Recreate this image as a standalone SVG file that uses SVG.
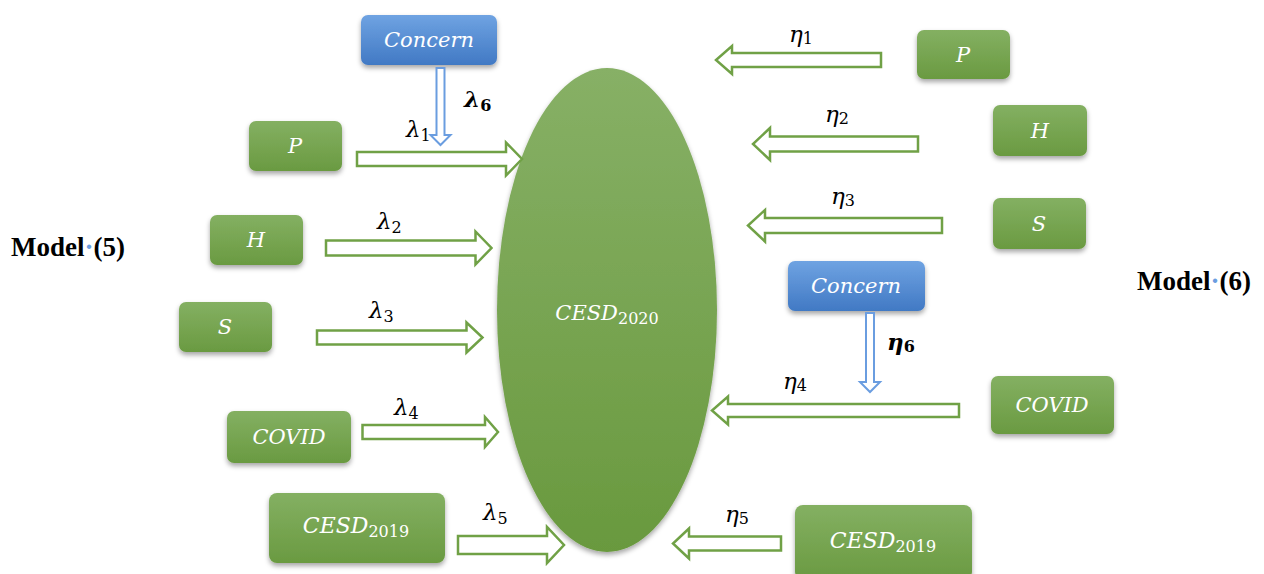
<svg xmlns="http://www.w3.org/2000/svg" width="1264" height="574" viewBox="0 0 1264 574">
<defs>
<linearGradient id="gGreen" x1="0" y1="0" x2="0" y2="1"><stop offset="0" stop-color="#84b062"/><stop offset="1" stop-color="#6a9a41"/></linearGradient>
<linearGradient id="gEll" x1="0" y1="0" x2="0" y2="1"><stop offset="0" stop-color="#87b066"/><stop offset="1" stop-color="#69993e"/></linearGradient>
<linearGradient id="gBlue" x1="0" y1="0" x2="0" y2="1"><stop offset="0" stop-color="#6fa3e2"/><stop offset="1" stop-color="#4179c4"/></linearGradient>
<filter id="sh" x="-20%" y="-20%" width="140%" height="160%"><feDropShadow dx="0" dy="3" stdDeviation="2.5" flood-color="#000" flood-opacity="0.35"/></filter>
</defs>
<style>
.gn{fill:url(#gGreen);filter:url(#sh)}
.bn{fill:url(#gBlue);filter:url(#sh)}
.nt{font-family:"DejaVu Serif",serif;font-style:italic;font-size:21px;fill:#fff;text-anchor:middle}
.sub{font-style:normal;font-size:16px}
.ga{fill:#fff;stroke:#70a146;stroke-width:2.5;stroke-linejoin:miter}
.ba{fill:#fff;stroke:#6a9de0;stroke-width:2}
.lb{font-family:"DejaVu Serif",serif;font-style:italic;font-size:23px;fill:#000}
.ls{font-style:normal;font-size:16px}
.bold{font-weight:bold}
.model{font-family:"Liberation Serif",serif;font-weight:bold;font-size:27px;fill:#000}
</style>

<g id="model5"><text class="model" x="11" y="256">Model<tspan fill="#6a9de0">·</tspan>(5)</text></g>
<g id="model6"><text class="model" x="1137" y="290">Model<tspan fill="#6a9de0">·</tspan>(6)</text></g>

<g id="cesd2020"><ellipse cx="607" cy="310" rx="110" ry="242" fill="url(#gEll)" filter="url(#sh)"/>
<text class="nt" x="607" y="320">CESD<tspan class="sub" dy="4">2020</tspan></text></g>

<g id="concernL"><rect class="bn" x="361" y="15" width="136" height="50" rx="7"/><text class="nt" x="429" y="47">Concern</text></g>
<g id="pL"><rect class="gn" x="249" y="121" width="93" height="50" rx="7"/><text class="nt" x="295" y="153">P</text></g>
<g id="hL"><rect class="gn" x="210" y="215" width="93" height="50" rx="7"/><text class="nt" x="256" y="247">H</text></g>
<g id="sL"><rect class="gn" x="179" y="302" width="93" height="50" rx="7"/><text class="nt" x="225" y="334">S</text></g>
<g id="covidL"><rect class="gn" x="227" y="411" width="124" height="52" rx="7"/><text class="nt" x="289" y="444">COVID</text></g>
<g id="cesd2019L"><rect class="gn" x="269" y="493" width="176" height="70" rx="8"/><text class="nt" x="356" y="533" style="font-size:22px">CESD<tspan class="sub" dy="4">2019</tspan></text></g>

<g id="pR"><rect class="gn" x="917" y="30" width="93" height="49" rx="7"/><text class="nt" x="963" y="62">P</text></g>
<g id="hR"><rect class="gn" x="993" y="105" width="94" height="51" rx="7"/><text class="nt" x="1040" y="138">H</text></g>
<g id="sR"><rect class="gn" x="993" y="198" width="93" height="51" rx="7"/><text class="nt" x="1039" y="231">S</text></g>
<g id="concernR"><rect class="bn" x="788" y="261" width="137" height="50" rx="7"/><text class="nt" x="856" y="293">Concern</text></g>
<g id="covidR"><rect class="gn" x="991" y="376" width="123" height="58" rx="7"/><text class="nt" x="1052" y="412">COVID</text></g>
<g id="cesd2019R"><rect class="gn" x="795" y="505" width="177" height="75" rx="8"/><text class="nt" x="883" y="548" style="font-size:22px">CESD<tspan class="sub" dy="4">2019</tspan></text></g>

<g id="connectors">
<polygon class="ba" points="436.5,68 444.5,68 444.5,135 450.5,135 440.5,145 430.5,135 436.5,135"/>
<polygon class="ga" points="357,152 506,152 506,142.5 522,159 506,175.5 506,166 357,166"/>
<polygon class="ga" points="326,240.5 475.5,240.5 475.5,231.5 491.5,248 475.5,264.5 475.5,255.5 326,255.5"/>
<polygon class="ga" points="317,330.5 466.5,330.5 466.5,322.5 482.5,337.5 466.5,352.5 466.5,344.5 317,344.5"/>
<polygon class="ga" points="362.5,425 485,425 485,417 498,432 485,447 485,439 362.5,439"/>
<polygon class="ga" points="458,536 547,536 547,527 564,545 547,563 547,554 458,554"/>

<polygon class="ga" points="881,53 732,53 732,46 716,60 732,74 732,67 881,67"/>
<polygon class="ga" points="918,136.5 770,136.5 770,128 753,144 770,160 770,151.5 918,151.5"/>
<polygon class="ga" points="942,218 765,218 765,210 748,225.5 765,241.5 765,233 942,233"/>
<polygon class="ga" points="959,404 728,404 728,396.5 712,410.5 728,424.5 728,417 959,417"/>
<polygon class="ga" points="781,536.5 689,536.5 689,528.5 673,543.5 689,558.5 689,550.5 781,550.5"/>
<polygon class="ba" points="866,313 874,313 874,382 880,382 870,392 860,382 866,382"/>

<text class="lb" x="406" y="137">λ<tspan class="ls" dy="4">1</tspan></text>
<text class="lb bold" x="464" y="107">λ<tspan class="ls" dy="4">6</tspan></text>
<text class="lb" x="377" y="229">λ<tspan class="ls" dy="4">2</tspan></text>
<text class="lb" x="369" y="318">λ<tspan class="ls" dy="4">3</tspan></text>
<text class="lb" x="394" y="415">λ<tspan class="ls" dy="4">4</tspan></text>
<text class="lb" x="483" y="520">λ<tspan class="ls" dy="4">5</tspan></text>
<text class="lb" x="789" y="42">η<tspan class="ls" dy="2">1</tspan></text>
<text class="lb" x="825" y="122">η<tspan class="ls" dy="2">2</tspan></text>
<text class="lb" x="831" y="204">η<tspan class="ls" dy="2">3</tspan></text>
<text class="lb bold" x="887" y="350">η<tspan class="ls" dy="2">6</tspan></text>
<text class="lb" x="783" y="389">η<tspan class="ls" dy="2">4</tspan></text>
<text class="lb" x="725" y="522">η<tspan class="ls" dy="2">5</tspan></text>
</g>
</svg>
